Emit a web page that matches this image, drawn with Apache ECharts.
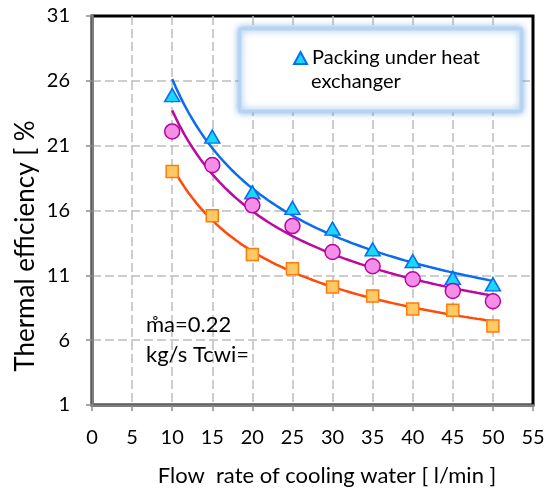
<!DOCTYPE html>
<html>
<head>
<meta charset="utf-8">
<script src="https://cdn.jsdelivr.net/npm/echarts@6/dist/echarts.min.js"></script>
<style>
  html, body { margin: 0; padding: 0; background: #ffffff; }
  #chart { width: 549px; height: 492px; }
</style>
</head>
<body>
<div id="chart"></div>
<script>
// Cooling water flow rate [l/min]
const flowRates = [10, 15, 20, 25, 30, 35, 40, 45, 50];
// Thermal efficiency [%] for each configuration
const packingUnderHx = [24.9, 21.7, 17.4, 16.2, 14.6, 13.0, 12.1, 10.8, 10.3];
const circleSeries   = [22.1, 19.5, 16.4, 14.8, 12.8, 11.7, 10.7, 9.8, 9.0];
const squareSeries   = [19.0, 15.6, 12.6, 11.5, 10.1, 9.4, 8.4, 8.3, 7.1];

// [min, max, step]
const xAxisRange = [0, 55, 5];
const yAxisRange = [1, 31, 5];

const FONT = 'Lato';

// Least-squares power trendline (y = a * x^b) fitted in log space
function powerTrend(xs, ys, steps) {
  const n = xs.length;
  const lx = xs.map(Math.log), ly = ys.map(Math.log);
  const mx = lx.reduce((s, v) => s + v, 0) / n;
  const my = ly.reduce((s, v) => s + v, 0) / n;
  let sxy = 0, sxx = 0;
  for (let i = 0; i < n; i++) {
    sxy += (lx[i] - mx) * (ly[i] - my);
    sxx += (lx[i] - mx) * (lx[i] - mx);
  }
  const b = sxy / sxx;
  const a = Math.exp(my - b * mx);
  const x0 = xs[0], x1 = xs[n - 1];
  const pts = [];
  for (let i = 0; i <= steps; i++) {
    const x = x0 + (x1 - x0) * i / steps;
    pts.push([x, a * Math.pow(x, b)]);
  }
  return pts;
}

const pairs = ys => flowRates.map((x, i) => [x, ys[i]]);

function trendLine(ys, color) {
  return {
    type: 'line',
    data: powerTrend(flowRates, ys, 80),
    showSymbol: false,
    silent: true,
    lineStyle: { color: color, width: 2.5 },
    z: 2
  };
}

const axisCommon = {
  type: 'value',
  axisLine: { show: true, onZero: false, lineStyle: { color: '#7f7f7f', width: 2.5 } },
  axisTick: { show: true, length: 6, lineStyle: { color: '#8c8c8c', width: 1.5 } },
  splitLine: {
    show: true, showMinLine: false, showMaxLine: false,
    lineStyle: { color: '#bdbdbd', width: 1.5, type: [9, 4] }
  }
};

const chart = echarts.init(document.getElementById('chart'), null, { renderer: 'canvas' });

chart.setOption({
  animation: false,
  backgroundColor: '#ffffff',
  textStyle: { fontFamily: FONT },
  grid: {
    left: 92, right: 16, top: 16, bottom: 87,
    show: true, borderColor: '#000000', borderWidth: 3,
    backgroundColor: 'transparent'
  },
  legend: {
    data: ['Packing under heat exchanger'],
    left: 293, top: 46,
    padding: 0,
    itemWidth: 13, itemHeight: 12,
    formatter: () => 'Packing under heat',
    textStyle: { fontFamily: FONT, fontSize: 20, color: '#000', lineHeight: 24 }
  },
  xAxis: Object.assign({}, axisCommon, {
    min: xAxisRange[0], max: xAxisRange[1], interval: xAxisRange[2],
    axisLabel: { margin: 23, fontFamily: FONT, fontSize: 20, color: '#000' }
  }),
  yAxis: Object.assign({}, axisCommon, {
    min: yAxisRange[0], max: yAxisRange[1], interval: yAxisRange[2],
    axisLabel: { margin: 22, fontFamily: FONT, fontSize: 20, color: '#000' }
  }),
  graphic: [
    // legend frame with soft blue glow
    {
      type: 'rect', z: 1, silent: true,
      shape: { x: 240, y: 29, width: 281, height: 82 },
      style: { fill: '#ffffff', stroke: '#b7d3f2', lineWidth: 3,
               shadowBlur: 7, shadowColor: 'rgba(90,150,225,0.75)' }
    },
    {
      type: 'text', z: 10, silent: true,
      style: { text: 'exchanger', x: 311, y: 82, font: '20px ' + FONT, fill: '#000',
               align: 'left', verticalAlign: 'middle' }
    },
    // axis titles
    {
      type: 'text', z: 10, silent: true,
      x: 25.5, y: 246, rotation: Math.PI / 2,
      style: { text: 'Thermal efficiency [ %', x: 0, y: 0, font: '26px ' + FONT, fill: '#000',
               align: 'center', verticalAlign: 'middle' }
    },
    {
      type: 'text', z: 10, silent: true,
      style: { text: 'Flow  rate of cooling water [ l/min ]', x: 327, y: 476,
               font: '22px ' + FONT, fill: '#000', align: 'center', verticalAlign: 'middle' }
    },
    // operating conditions note
    {
      type: 'text', z: 10, silent: true,
      style: { text: 'm\u030Aa=0.22', x: 146, y: 325, font: '22px ' + FONT, fill: '#000',
               align: 'left', verticalAlign: 'middle' }
    },
    {
      type: 'text', z: 10, silent: true,
      style: { text: 'kg/s Tcwi=', x: 146, y: 355, font: '22px ' + FONT, fill: '#000',
               align: 'left', verticalAlign: 'middle' }
    }
  ],
  series: [
    trendLine(packingUnderHx, '#0b6cf0'),
    trendLine(circleSeries, '#ba0aa0'),
    trendLine(squareSeries, '#ff4a0a'),
    {
      name: 'Packing under heat exchanger',
      type: 'scatter',
      data: pairs(packingUnderHx),
      symbol: 'triangle', symbolSize: [15, 13],
      itemStyle: { color: '#1ad8f7', borderColor: '#0a6cf5', borderWidth: 1.5, opacity: 1 },
      z: 5
    },
    {
      name: 'Circle points',
      type: 'scatter',
      data: pairs(circleSeries),
      symbol: 'circle', symbolSize: 15,
      itemStyle: { color: '#f58ee9', borderColor: '#b8049e', borderWidth: 1.5, opacity: 1 },
      z: 5
    },
    {
      name: 'Square points',
      type: 'scatter',
      data: pairs(squareSeries),
      symbol: 'rect', symbolSize: 12,
      itemStyle: { color: '#ffc965', borderColor: '#ff7a0a', borderWidth: 1.5, opacity: 1 },
      z: 5
    }
  ]
});
</script>
</body>
</html>
